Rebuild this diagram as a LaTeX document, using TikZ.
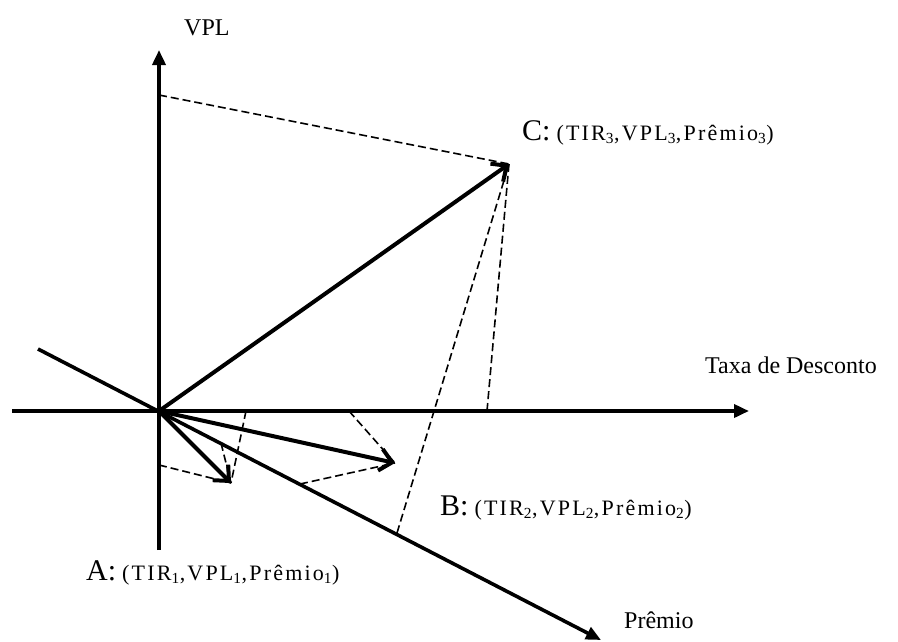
\documentclass[tikz,border=0pt]{standalone}
\usepackage{fontspec}
\setmainfont{Liberation Serif}
\usetikzlibrary{arrows.meta}
\newcommand\ptletter[1]{{\fontsize{30}{32}\selectfont #1}}
\newcommand\ptcoords[1]{{\fontsize{22}{24}\selectfont\addfontfeature{LetterSpace=10}#1}}
\begin{document}
\begin{tikzpicture}[x=1pt,y=-1pt,
  axis/.style={line width=3.6pt,-{Triangle[length=15pt,width=13pt]}},
  vec/.style={line width=4pt,-{Straight Barb[length=12pt,width=22pt]}},
  proj/.style={line width=1.6pt,dash pattern=on 8pt off 4pt},
  lbl/.style={font=\fontsize{24}{28}\selectfont,inner sep=0pt,anchor=base west},
]
\useasboundingbox (0,0) rectangle (898,641);
% axes
\coordinate (O) at (159,411);
\coordinate (vtop) at (159,50);
\coordinate (vbot) at (159,550);
\coordinate (hl) at (12,411);
\coordinate (hr) at (749,411);
\coordinate (pl) at (38,349);
\coordinate (pr) at (601,640);
% points
\coordinate (A) at (231,483);
\coordinate (B) at (395,463);
\coordinate (C) at (509,164);
% projections
\coordinate (Av) at (159,465);
\coordinate (Ah) at (246,411);
\coordinate (Ap) at (221,443);
\coordinate (Bh) at (349,411);
\coordinate (Bp) at (300,484);
\coordinate (Cv) at (159,95);
\coordinate (Ch) at (487,411);
\coordinate (Cp) at (397,533);

\draw[proj] (Av) -- (A);
\draw[proj] (Ah) -- (A);
\draw[proj] (Ap) -- (A);
\draw[proj] (Bh) -- (B);
\draw[proj] (Bp) -- (B);
\draw[proj] (Cv) -- (C);
\draw[proj] (Ch) -- (C);
\draw[proj] (Cp) -- (C);

\draw[axis] (vbot) -- (vtop);
\draw[axis] (hl) -- (hr);
\draw[axis] (pl) -- (pr);

\draw[vec] (O) -- (A);
\draw[vec] (O) -- (B);
\draw[vec] (O) -- (C);

\node[lbl] (lvpl) at (184,35) {VPL};
\node[lbl] (ltaxa) at (705,373) {Taxa de Desconto};
\node[lbl] (lpremio) at (624,628) {Prêmio};
\node[lbl] (lC) at (522,140) {\ptletter{C:} \ptcoords{(TIR\textsubscript{3},VPL\textsubscript{3},Prêmio\textsubscript{3})}};
\node[lbl] (lB) at (440,515) {\ptletter{B:} \ptcoords{(TIR\textsubscript{2},VPL\textsubscript{2},Prêmio\textsubscript{2})}};
\node[lbl] (lA) at (86,580) {\ptletter{A:} \ptcoords{(TIR\textsubscript{1},VPL\textsubscript{1},Prêmio\textsubscript{1})}};
\end{tikzpicture}
\end{document}
